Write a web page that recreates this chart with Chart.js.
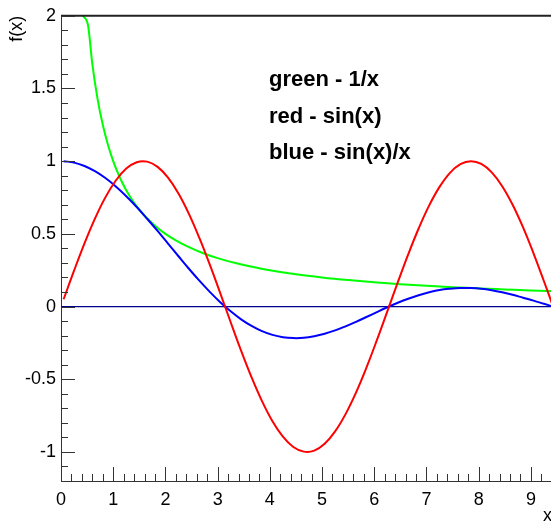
<!DOCTYPE html>
<html><head><meta charset="utf-8">
<script src="https://cdn.jsdelivr.net/npm/chart.js@4/dist/chart.umd.min.js"></script>
<style>html,body{margin:0;padding:0;background:#fff;overflow:hidden}canvas{display:block}</style>
</head><body>
<canvas id="c" width="551" height="522"></canvas>
<script>
// ---- data ----
const xs = [0.05,0.25,0.45,0.65,0.85,1.05,1.25,1.45,1.65,1.85,2.05,2.25,2.45,2.65,2.85,3.05,3.25,3.45,3.65,3.85,4.05,4.25,4.45,4.65,4.85,5.05,5.25,5.45,5.65,5.85,6.05,6.25,6.45,6.65,6.85,7.05,7.25,7.45,7.65,7.85,8.05,8.25,8.45,8.65,8.85,9.05,9.25,9.45];
const redSin = [0.050,0.247,0.435,0.605,0.751,0.867,0.949,0.993,0.997,0.961,0.887,0.778,0.638,0.472,0.288,0.092,-0.108,-0.304,-0.487,-0.651,-0.789,-0.895,-0.966,-0.998,-0.991,-0.944,-0.859,-0.740,-0.592,-0.420,-0.231,-0.033,0.166,0.359,0.537,0.694,0.823,0.920,0.979,1.000,0.981,0.923,0.828,0.700,0.544,0.366,0.174,-0.025];
const blueSinc = [1.000,0.990,0.967,0.931,0.884,0.826,0.759,0.685,0.604,0.520,0.433,0.346,0.260,0.178,0.101,0.030,-0.033,-0.088,-0.133,-0.169,-0.195,-0.211,-0.217,-0.215,-0.204,-0.187,-0.164,-0.136,-0.105,-0.072,-0.038,-0.005,0.026,0.054,0.078,0.098,0.114,0.123,0.128,0.127,0.122,0.112,0.098,0.081,0.061,0.041,0.019,-0.003];
const xGreen = [0.42,0.52,0.6,0.7,0.8,0.9,1.0,1.1,1.2,1.3,1.4,1.5,1.6,1.8,2.0,2.2,2.4,2.7,3.0,3.5,4.0,4.5,5.0,5.5,6.0,6.5,7.0,7.5,8.0,8.5,9.0,9.45];
const greenInv = [2.0,1.93,1.667,1.429,1.25,1.111,1.0,0.909,0.833,0.769,0.714,0.667,0.625,0.556,0.5,0.455,0.417,0.370,0.333,0.286,0.25,0.222,0.2,0.182,0.167,0.154,0.143,0.133,0.125,0.118,0.111,0.106];
const zeroX = [0, 9.45];
const zeroY = [0, 0];
const xTickLabels = [0,1,2,3,4,5,6,7,8,9];
const yTickLabels = [-1,-0.5,0,0.5,1,1.5,2];
const legendLines = ['green - 1/x','red - sin(x)','blue - sin(x)/x'];
const xTitle = 'x';
const yTitle = 'f(x)';

const FONT = '"Liberation Sans", Arial, Helvetica, sans-serif';
const pts = (xa, ya) => xa.map((v, i) => ({x: v, y: ya[i]}));

const rootDeco = {
  id: 'rootDeco',
  afterDraw(chart) {
    const {ctx, chartArea: a, scales: {x, y}} = chart;
    ctx.save();
    // top frame line
    ctx.strokeStyle = '#222';
    ctx.lineWidth = 2;
    ctx.beginPath();
    ctx.moveTo(a.left, a.top); ctx.lineTo(a.right, a.top);
    ctx.stroke();
    // inward ticks
    ctx.strokeStyle = '#333';
    ctx.lineWidth = 1;
    ctx.beginPath();
    for (let i = 0; i <= 50; i++) {
      const v = i * 0.2;
      if (v > x.max + 1e-9) break;
      const px = Math.round(x.getPixelForValue(v)) + 0.5;
      const len = (i % 5 === 0) ? 14 : 7;
      ctx.moveTo(px, a.bottom); ctx.lineTo(px, a.bottom - len);
    }
    for (let i = -12; i <= 20; i++) {
      const v = i / 10;
      const py = Math.round(y.getPixelForValue(v)) + 0.5;
      const len = (i % 5 === 0) ? 14 : 7;
      ctx.moveTo(a.left, py); ctx.lineTo(a.left + len, py);
    }
    ctx.stroke();
    // axis titles
    ctx.fillStyle = '#000';
    ctx.font = '18px ' + FONT;
    ctx.textAlign = 'right';
    ctx.textBaseline = 'alphabetic';
    ctx.fillText(xTitle, 552, 521);
    ctx.save();
    ctx.translate(22, a.top);
    ctx.rotate(-Math.PI / 2);
    ctx.textAlign = 'right';
    ctx.fillText(yTitle, 0, 0);
    ctx.restore();
    // text box
    ctx.font = 'bold 22px ' + FONT;
    ctx.textAlign = 'left';
    const bases = [86, 123, 159];
    legendLines.forEach((t, i) => ctx.fillText(t, 269, bases[i]));
    ctx.restore();
  }
};

new Chart(document.getElementById('c'), {
  type: 'line',
  data: {
    datasets: [
      {data: pts(xs, redSin), borderColor: '#ff0000', borderWidth: 2, pointRadius: 0, tension: 0.4, fill: false},
      {data: pts(xs, blueSinc), borderColor: '#0000ff', borderWidth: 2, pointRadius: 0, tension: 0.4, fill: false},
      {data: pts(xGreen, greenInv), borderColor: '#00ff00', borderWidth: 2, pointRadius: 0, cubicInterpolationMode: 'monotone', fill: false},
      {data: pts(zeroX, zeroY), borderColor: '#00008f', borderWidth: 1.2, pointRadius: 0, fill: false}
    ]
  },
  options: {
    responsive: false,
    animation: false,
    devicePixelRatio: 1,
    layout: {padding: {top: 13, right: 0, left: 0, bottom: 0}},
    plugins: {legend: {display: false}, tooltip: {enabled: false}},
    scales: {
      x: {
        type: 'linear', min: 0, max: 9.385,
        grid: {display: false, drawTicks: false},
        border: {display: true, color: '#333', width: 1},
        afterBuildTicks: s => { s.ticks = xTickLabels.map(v => ({value: v})); },
        afterFit: s => { s.height = 41; },
        ticks: {font: {family: FONT, size: 18}, color: '#000', padding: 8, maxRotation: 0, autoSkip: false, callback: v => String(v)}
      },
      y: {
        type: 'linear', min: -1.2, max: 2,
        grid: {display: false, drawTicks: false},
        border: {display: true, color: '#333', width: 1},
        afterBuildTicks: s => { s.ticks = yTickLabels.map(v => ({value: v})); },
        afterFit: s => { s.width = 61; },
        ticks: {font: {family: FONT, size: 18}, color: '#000', padding: 5, autoSkip: false, callback: v => String(v)}
      }
    }
  },
  plugins: [rootDeco]
});
</script>
</body></html>
